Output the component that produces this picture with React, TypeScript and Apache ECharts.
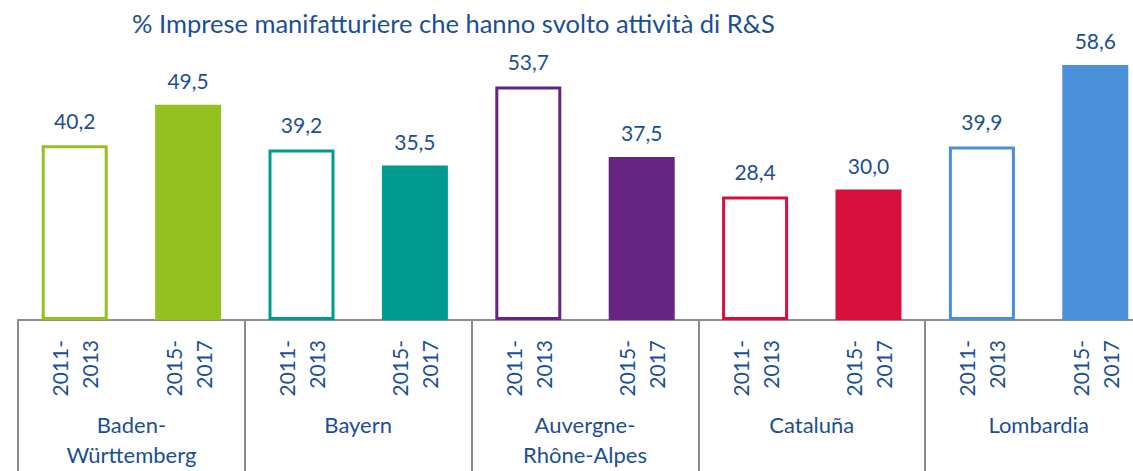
import React, { useEffect, useRef } from "react";
import * as echarts from "echarts";

const titleText = "% Imprese manifatturiere che hanno svolto attività di R&S";
const regions = ["Baden-\nWürttemberg", "Bayern", "Auvergne-\nRhône-Alpes", "Cataluña", "Lombardia"];
const periods = ["2011-\n2013", "2015-\n2017"];
const values2011 = [40.2, 39.2, 53.7, 28.4, 39.9];
const values2015 = [49.5, 35.5, 37.5, 30.0, 58.6];
const regionColors = ["#95C11F", "#009B8E", "#662483", "#D60F3C", "#4A90D9"];

const TEXT = "#1B4F93";
const AXIS = "#8C8C8C";
const FONT = "Lato";

export default function App() {
  const ref = useRef<HTMLDivElement>(null);
  useEffect(() => {
    if (!ref.current) return;
    const chart = echarts.init(ref.current, undefined, { renderer: "svg" });
    const cats: string[] = [];
    const data: any[] = [];
    regions.forEach((r, i) => {
      [values2011[i], values2015[i]].forEach((v, j) => {
        cats.push(r + "|" + periods[j]);
        const c = regionColors[i];
        data.push({
          value: v,
          itemStyle:
            j === 0
              ? { color: "#FFFFFF", borderColor: c, borderWidth: 3 }
              : { color: c, borderWidth: 0 },
        });
      });
    });
    chart.setOption({
      animation: false,
      textStyle: { fontFamily: FONT },
      title: {
        text: titleText,
        left: 127,
        top: 5,
        textStyle: { color: TEXT, fontSize: 25.5, fontWeight: "normal", fontFamily: FONT },
      },
      grid: { left: 18, right: 8, top: 59, bottom: 151, containLabel: false },
      xAxis: [
        {
          type: "category",
          data: cats,
          position: "bottom",
          axisLine: { show: true, lineStyle: { color: AXIS, width: 2 } },
          axisTick: { show: false },
          axisLabel: {
            interval: 0,
            rotate: 90,
            margin: 20,
            color: TEXT,
            fontSize: 21,
            lineHeight: 30,
            fontFamily: FONT,
            formatter: (v: string) => v.split("|")[1],
          },
        },
        {
          type: "category",
          data: regions,
          position: "bottom",
          axisLine: { show: true, lineStyle: { color: AXIS, width: 2 } },
          axisTick: { show: true, length: 160, interval: 0, lineStyle: { color: AXIS, width: 2 } },
          axisLabel: {
            interval: 0,
            margin: 89,
            color: TEXT,
            fontSize: 22,
            lineHeight: 30,
            fontFamily: FONT,
          },
        },
      ],
      yAxis: { type: "value", min: 0, max: 60, show: false, splitLine: { show: false } },
      series: [
        {
          type: "bar",
          xAxisIndex: 0,
          data,
          barWidth: 66,
          label: {
            show: true,
            position: "top",
            distance: 14,
            color: TEXT,
            fontSize: 21,
            fontFamily: FONT,
            formatter: (p: any) => p.value.toFixed(1).replace(".", ","),
          },
        },
      ],
    });
    return () => chart.dispose();
  }, []);
  return (
    <div
      ref={ref}
      style={{ position: "fixed", left: 0, top: 0, width: 1160, height: 471, background: "#fff" }}
    />
  );
}
